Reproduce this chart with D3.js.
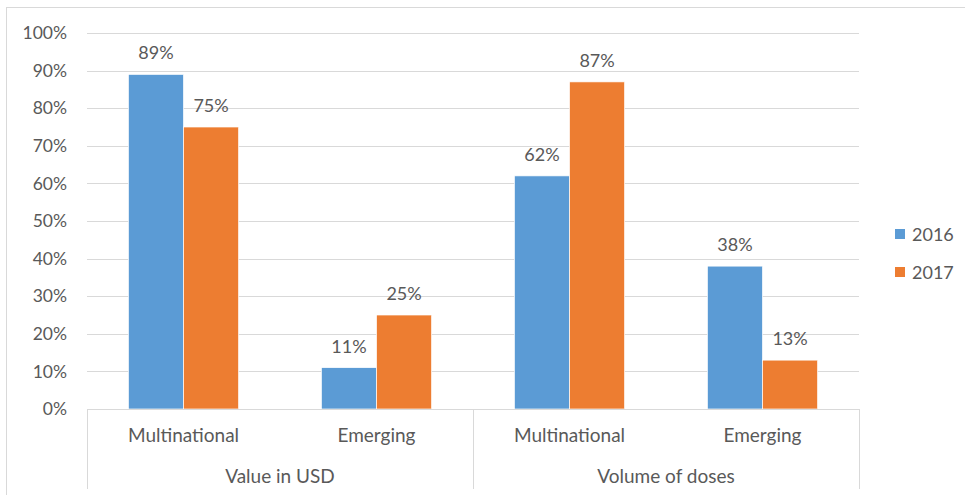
<!DOCTYPE html>
<html>
<head>
<meta charset="utf-8">
<script src="https://cdn.jsdelivr.net/npm/d3@7"></script>
<style>
  body { margin:0; background:#fff; }
  text { font-family: Lato, "Open Sans", sans-serif; fill:#595959; }
</style>
</head>
<body>
<div class="canvas"></div>
<script>
// DATA
var groups = ['Value in USD', 'Volume of doses'];
var categories = ['Multinational', 'Emerging'];
var seriesNames = ['2016', '2017'];
var values2016 = [0.89, 0.11, 0.62, 0.38];
var values2017 = [0.75, 0.25, 0.87, 0.13];
var yTicks = [0, 0.1, 0.2, 0.3, 0.4, 0.5, 0.6, 0.7, 0.8, 0.9, 1.0];

var colors = ['#5b9bd5', '#ed7d31'];

// DIMENSIONS
var w = 965, h = 495;
var margin = { left: 87, right: 106, top: 33, bottom: 86 };
var width = w - margin.left - margin.right;
var height = h - margin.top - margin.bottom;

var svg = d3.select('.canvas').append('svg')
    .attr('width', w)
    .attr('height', h);

// chart frame
svg.append('rect')
    .attr('x', 6.5).attr('y', 7.5)
    .attr('width', w + 20).attr('height', h + 20)
    .attr('fill', 'none')
    .attr('stroke', '#d9d9d9');

var g = svg.append('g')
    .attr('transform', 'translate(' + margin.left + ',' + margin.top + ')');

// build rows: one per group/category
var rows = [];
groups.forEach(function(gr, gi) {
    categories.forEach(function(c, ci) {
        var i = gi * categories.length + ci;
        rows.push({ key: gr + '|' + c, group: gr, cat: c, vals: [values2016[i], values2017[i]] });
    });
});

// SCALES
// excel gap width 150% -> each bar = step/3.5
var step = width / rows.length;
var barW = step / 3.5;

var y = d3.scaleLinear().domain([0, 1]).range([height, 0]);

// GRIDLINES
g.append('g')
    .selectAll('line')
    .data(yTicks.slice(1))
    .enter().append('line')
    .attr('x1', 0).attr('x2', width)
    .attr('y1', function(d) { return Math.round(y(d)) + 0.5; })
    .attr('y2', function(d) { return Math.round(y(d)) + 0.5; })
    .attr('stroke', '#d9d9d9')
    .attr('stroke-width', 1);

// Y AXIS LABELS
var yAxis = g.append('g')
    .call(d3.axisLeft(y).tickValues(yTicks).tickFormat(d3.format('.0%')).tickSize(0).tickPadding(20));
yAxis.select('.domain').remove();
yAxis.selectAll('text')
    .style('font-size', '17.5px')
    .attr('fill', '#595959');

// BARS
var rowG = g.selectAll('.row')
    .data(rows)
    .enter().append('g')
    .attr('class', 'row')
    .attr('transform', function(d, i) { return 'translate(' + (i * step + (step - 2 * barW) / 2) + ',0)'; });

rowG.selectAll('rect')
    .data(function(d) { return d.vals; })
    .enter().append('rect')
    .attr('x', function(d, i) { return i * barW; })
    .attr('y', function(d) { return y(d); })
    .attr('width', barW)
    .attr('height', function(d) { return height - y(d); })
    .attr('fill', function(d, i) { return colors[i]; })
    .attr('stroke', '#fff')
    .attr('stroke-width', 0.7);

// BAR LABELS
rowG.selectAll('.lbl')
    .data(function(d) { return d.vals; })
    .enter().append('text')
    .attr('class', 'lbl')
    .attr('x', function(d, i) { return i * barW + barW / 2; })
    .attr('y', function(d) { return y(d) - 15; })
    .attr('text-anchor', 'middle')
    .style('font-size', '18px')
    .text(function(d) { return d3.format('.0%')(d); });

// X AXIS (multi-level)
g.append('line')
    .attr('x1', 0).attr('x2', width)
    .attr('y1', height + 0.5).attr('y2', height + 0.5)
    .attr('stroke', '#d9d9d9');

var groupW = width / groups.length;
d3.range(groups.length + 1).forEach(function(i) {
    g.append('line')
        .attr('x1', Math.round(i * groupW) + 0.5).attr('x2', Math.round(i * groupW) + 0.5)
        .attr('y1', height).attr('y2', height + 80)
        .attr('stroke', '#d9d9d9');
});

g.selectAll('.cat')
    .data(rows)
    .enter().append('text')
    .attr('class', 'cat')
    .attr('x', function(d, i) { return i * step + step / 2; })
    .attr('y', height + 33)
    .attr('text-anchor', 'middle')
    .style('font-size', '19px')
    .text(function(d) { return d.cat; });

g.selectAll('.grp')
    .data(groups)
    .enter().append('text')
    .attr('class', 'grp')
    .attr('x', function(d, i) { return i * groupW + groupW / 2; })
    .attr('y', height + 74)
    .attr('text-anchor', 'middle')
    .style('font-size', '19px')
    .text(function(d) { return d; });

// LEGEND
var legend = svg.append('g')
    .attr('transform', 'translate(895,229)');
var li = legend.selectAll('g')
    .data(seriesNames)
    .enter().append('g')
    .attr('transform', function(d, i) { return 'translate(0,' + (i * 38) + ')'; });
li.append('rect')
    .attr('width', 10).attr('height', 10)
    .attr('fill', function(d, i) { return colors[i]; });
li.append('text')
    .attr('x', 17).attr('y', 12)
    .style('font-size', '18px')
    .text(function(d) { return d; });
</script>
</body>
</html>
